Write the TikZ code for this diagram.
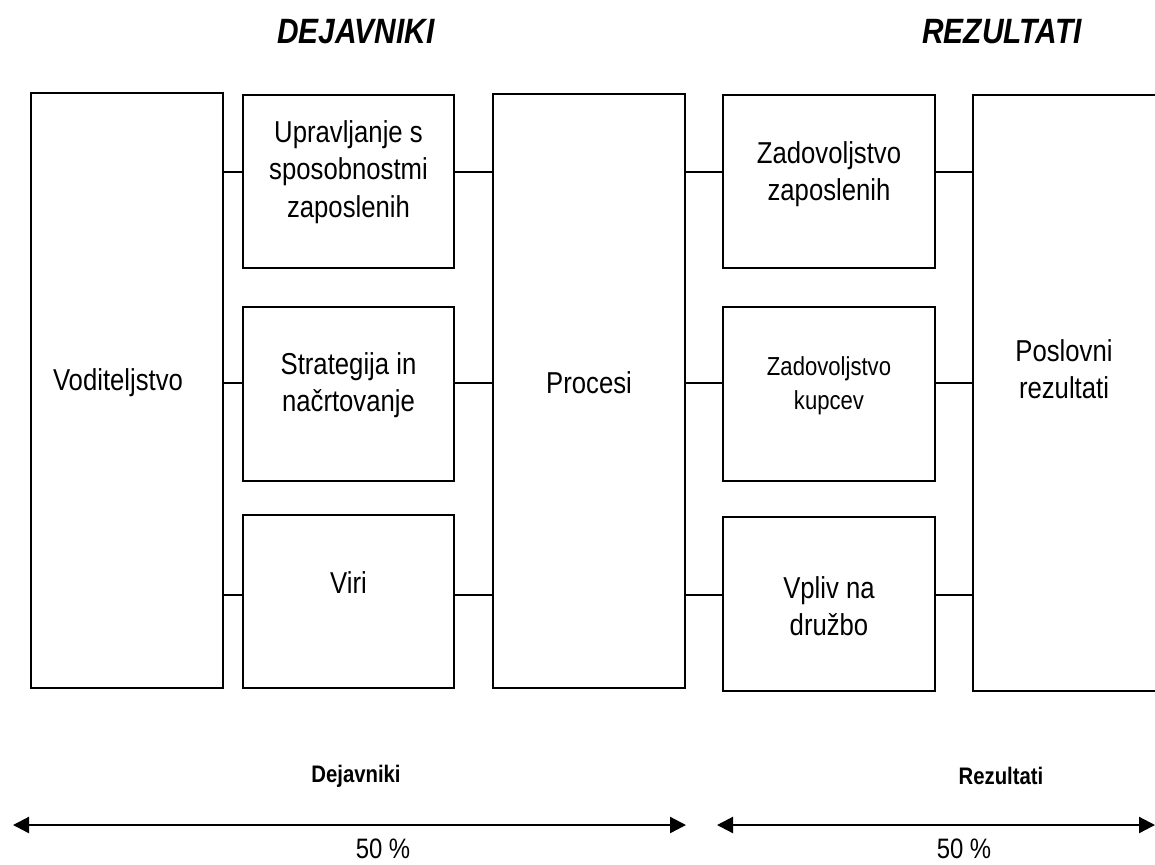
\documentclass[tikz,border=0pt]{standalone}
\usepackage{fontspec}
\setmainfont{Liberation Sans}[FakeStretch=0.85]
\usetikzlibrary{arrows.meta}
\begin{document}
\begin{tikzpicture}[x=0.025cm,y=-0.025cm,
  box/.style={draw,line width=1.1pt,inner sep=0pt,minimum width=#1},
  txt/.style={align=center,inner sep=0pt,font=\fontsize{21.5}{26.5}\selectfont},
  conn/.style={line width=0.9pt},
  title/.style={font=\fontsize{25}{29}\selectfont\bfseries\itshape},
  sub/.style={font=\fontsize{17}{20}\selectfont\bfseries},
  pct/.style={font=\fontsize{20}{23}\selectfont},
  span/.style={line width=1.6pt,{Triangle[length=0.4cm,width=0.4cm]}-{Triangle[length=0.4cm,width=0.4cm]}}]
\useasboundingbox (0,0) rectangle (1155,864);
\clip (0,0) rectangle (1155,864);
% boxes
\node[box=4.8cm,minimum height=14.875cm] (vod) at (127,390.5) {};
\node[box=5.275cm,minimum height=4.325cm] (upr) at (348.5,181.5) {};
\node[box=5.275cm,minimum height=4.35cm] (str) at (348.5,394) {};
\node[box=5.275cm,minimum height=4.325cm] (viri) at (348.5,601.5) {};
\node[box=4.8cm,minimum height=14.85cm] (proc) at (589,391) {};
\node[box=5.3cm,minimum height=4.325cm] (zz) at (829,181.5) {};
\node[box=5.3cm,minimum height=4.35cm] (zk) at (829,394) {};
\node[box=5.3cm,minimum height=4.35cm] (vpl) at (829,604) {};
\node[box=4.8cm,minimum height=14.9cm] (pos) at (1069,393) {};
% texts
\node[txt] (vodt) at (118,383) {Voditeljstvo};
\node[txt] (uprt) at (348.5,172) {Upravljanje s\\sposobnostmi\\zaposlenih};
\node[txt] (strt) at (348.5,385) {Strategija in\\načrtovanje};
\node[txt] (virit) at (348.5,583) {Viri};
\node[txt] (proct) at (589,383) {Procesi};
\node[txt] (zzt) at (829,174) {Zadovoljstvo\\zaposlenih};
\node[txt,font=\fontsize{18.5}{24}\selectfont] (zkt) at (829,386) {Zadovoljstvo\\kupcev};
\node[txt] (vplt) at (829,606) {Vpliv na\\družbo};
\node[txt] (post) at (1064,369) {Poslovni\\rezultati};
% connector rows
\coordinate (r1) at (0,172);
\coordinate (r2) at (0,383);
\coordinate (r3) at (0,595);
\draw[conn] (vod.east |- r1) -- (upr.west |- r1);
\draw[conn] (vod.east |- r2) -- (str.west |- r2);
\draw[conn] (vod.east |- r3) -- (viri.west |- r3);
\draw[conn] (upr.east |- r1) -- (proc.west |- r1);
\draw[conn] (str.east |- r2) -- (proc.west |- r2);
\draw[conn] (viri.east |- r3) -- (proc.west |- r3);
\draw[conn] (proc.east |- r1) -- (zz.west |- r1);
\draw[conn] (proc.east |- r2) -- (zk.west |- r2);
\draw[conn] (proc.east |- r3) -- (vpl.west |- r3);
\draw[conn] (zz.east |- r1) -- (pos.west |- r1);
\draw[conn] (zk.east |- r2) -- (pos.west |- r2);
\draw[conn] (vpl.east |- r3) -- (pos.west |- r3);
% titles
\node[title] (t1) at (356,32) {DEJAVNIKI};
\node[title] (t2) at (1002,32) {REZULTATI};
\node[sub] (s1) at (356,776) {Dejavniki};
\node[sub] (s2) at (1001,776) {Rezultati};
% spans
\coordinate (a1) at (13,825);
\coordinate (a2) at (686,825);
\coordinate (b1) at (717,825);
\coordinate (b2) at (1155,825);
\draw[span] (a1) -- (a2);
\draw[span] (b1) -- (b2);
\node[pct] (p1) at (383,849) {50 \%};
\node[pct] (p2) at (964,849) {50 \%};
\end{tikzpicture}
\end{document}
